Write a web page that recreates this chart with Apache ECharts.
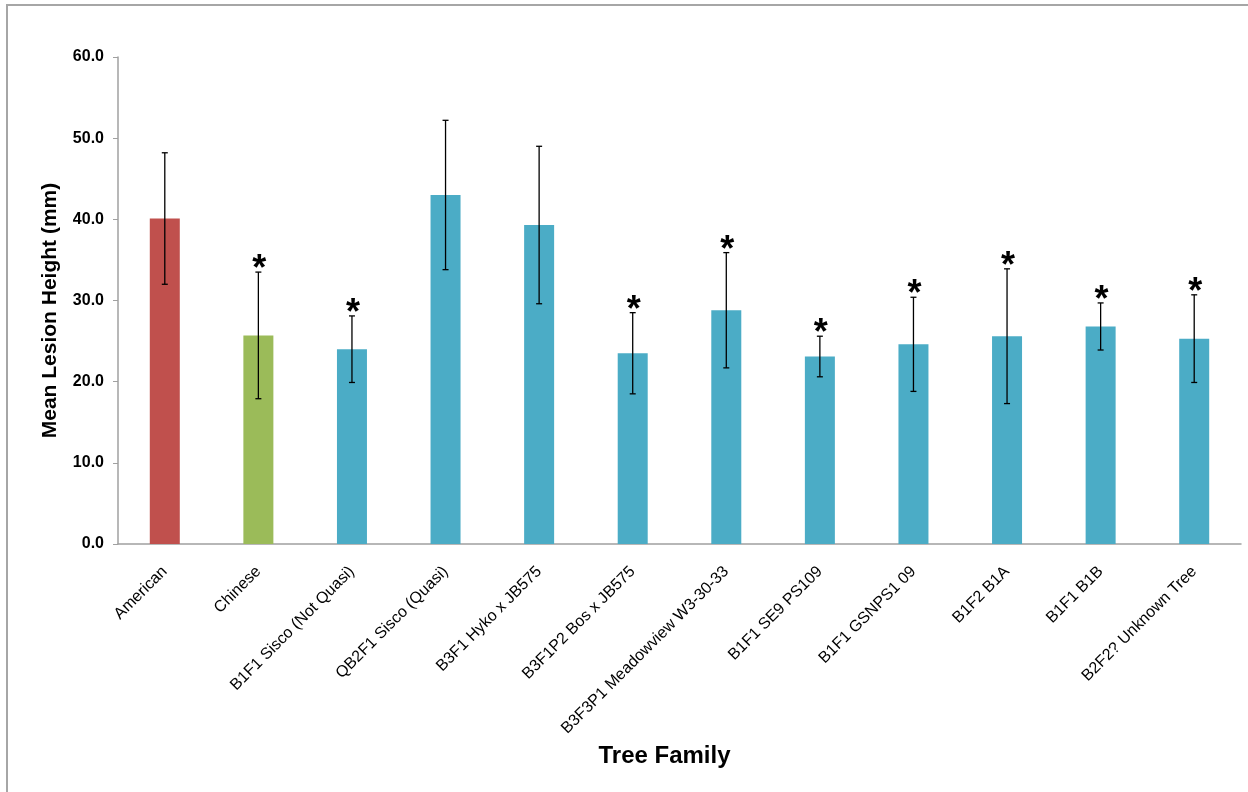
<!DOCTYPE html>
<html>
<head>
<meta charset="utf-8">
<title>Mean Lesion Height by Tree Family</title>
<script src="https://cdn.jsdelivr.net/npm/echarts@6/dist/echarts.min.js"></script>
<style>
  html, body { margin: 0; padding: 0; background: #ffffff; }
  #chart { width: 1248px; height: 792px; }
</style>
</head>
<body>
<div id="chart"></div>
<script>
// Tree families on the x axis
const categories = [
  'American',
  'Chinese',
  'B1F1 Sisco (Not Quasi)',
  'QB2F1 Sisco (Quasi)',
  'B3F1 Hyko x JB575',
  'B3F1P2 Bos x JB575',
  'B3F3P1 Meadowview W3-30-33',
  'B1F1 SE9 PS109',
  'B1F1 GSNPS1 09',
  'B1F2 B1A',
  'B1F1 B1B',
  'B2F2? Unknown Tree'
];

// Mean lesion height (mm) per family
const meanHeight = [40.1, 25.7, 24.0, 43.0, 39.3, 23.5, 28.8, 23.1, 24.6, 25.6, 26.8, 25.3];

// Error bar half-length (mm) per family
const errorHalf = [8.1, 7.8, 4.1, 9.2, 9.7, 5.0, 7.1, 2.5, 5.8, 8.3, 2.9, 5.4];

// Significance marks drawn above the error bars
const significance = ['', '*', '*', '', '', '*', '*', '*', '*', '*', '*', '*'];

// Y axis tick values
const yTicks = [0, 10, 20, 30, 40, 50, 60];

const FONT = "'Liberation Sans', Arial, Helvetica, sans-serif";
const barColors = { American: '#C0504D', Chinese: '#9BBB59', other: '#4BACC6' };

const chart = echarts.init(document.getElementById('chart'), null, { renderer: 'canvas' });

const option = {
  backgroundColor: '#ffffff',
  animation: false,
  grid: { left: 118, right: 7, top: 57, bottom: 248, containLabel: false },
  graphic: [
    // outer chart frame (top and left edges)
    { type: 'line', shape: { x1: 6, y1: 5, x2: 1248, y2: 5 }, style: { stroke: '#a6a6a6', lineWidth: 2 } },
    { type: 'line', shape: { x1: 7, y1: 4, x2: 7, y2: 792 }, style: { stroke: '#a6a6a6', lineWidth: 2 } }
  ],
  xAxis: {
    type: 'category',
    data: categories,
    name: 'Tree Family',
    nameLocation: 'middle',
    nameGap: 198,
    nameTextStyle: {
      fontFamily: FONT, fontWeight: 'bold', fontSize: 24, color: '#000',
      padding: [0, 30, 0, 0]
    },
    axisLine: { show: true, lineStyle: { color: '#a0a0a0', width: 1.5 } },
    axisTick: { show: false },
    axisLabel: {
      rotate: 45,
      interval: 0,
      margin: 25,
      fontFamily: FONT,
      fontSize: 16,
      color: '#000'
    }
  },
  yAxis: {
    type: 'value',
    min: yTicks[0],
    max: yTicks[yTicks.length - 1],
    interval: yTicks[1] - yTicks[0],
    name: 'Mean Lesion Height (mm)',
    nameLocation: 'middle',
    nameGap: 57,
    nameRotate: 90,
    nameTextStyle: {
      fontFamily: FONT, fontWeight: 'bold', fontSize: 21, color: '#000',
      padding: [0, 20, 0, 0]
    },
    axisLine: { show: true, lineStyle: { color: '#a0a0a0', width: 1.5 } },
    axisTick: { show: true, inside: false, length: 5, lineStyle: { color: '#a0a0a0' } },
    splitLine: { show: false },
    axisLabel: {
      margin: 14,
      fontFamily: FONT,
      fontWeight: 'bold',
      fontSize: 16,
      color: '#000',
      formatter: v => v.toFixed(1)
    }
  },
  series: [
    {
      type: 'bar',
      barWidth: 30,
      data: meanHeight.map((v, i) => ({
        value: v,
        itemStyle: {
          color: i === 0 ? barColors.American : (i === 1 ? barColors.Chinese : barColors.other)
        }
      }))
    },
    {
      type: 'custom',
      z: 10,
      data: meanHeight.map((v, i) => [i, v - errorHalf[i], v + errorHalf[i], significance[i]]),
      renderItem: function (params, api) {
        const idx = api.value(0);
        const lo = api.coord([idx, api.value(1)]);
        const hi = api.coord([idx, api.value(2)]);
        const cap = 3;
        const line = { stroke: '#000', lineWidth: 1.3 };
        const children = [
          { type: 'line', shape: { x1: hi[0], y1: hi[1], x2: lo[0], y2: lo[1] }, style: line },
          { type: 'line', shape: { x1: hi[0] - cap, y1: hi[1], x2: hi[0] + cap, y2: hi[1] }, style: line },
          { type: 'line', shape: { x1: lo[0] - cap, y1: lo[1], x2: lo[0] + cap, y2: lo[1] }, style: line }
        ];
        const mark = significance[params.dataIndex];
        if (mark) {
          children.push({
            type: 'text',
            x: hi[0] + 1,
            y: hi[1] - 2,
            style: {
              text: mark,
              fill: '#000',
              font: 'bold 36px ' + FONT,
              textAlign: 'center',
              textVerticalAlign: 'middle'
            }
          });
        }
        return { type: 'group', children: children };
      }
    }
  ]
};

chart.setOption(option);
</script>
</body>
</html>
